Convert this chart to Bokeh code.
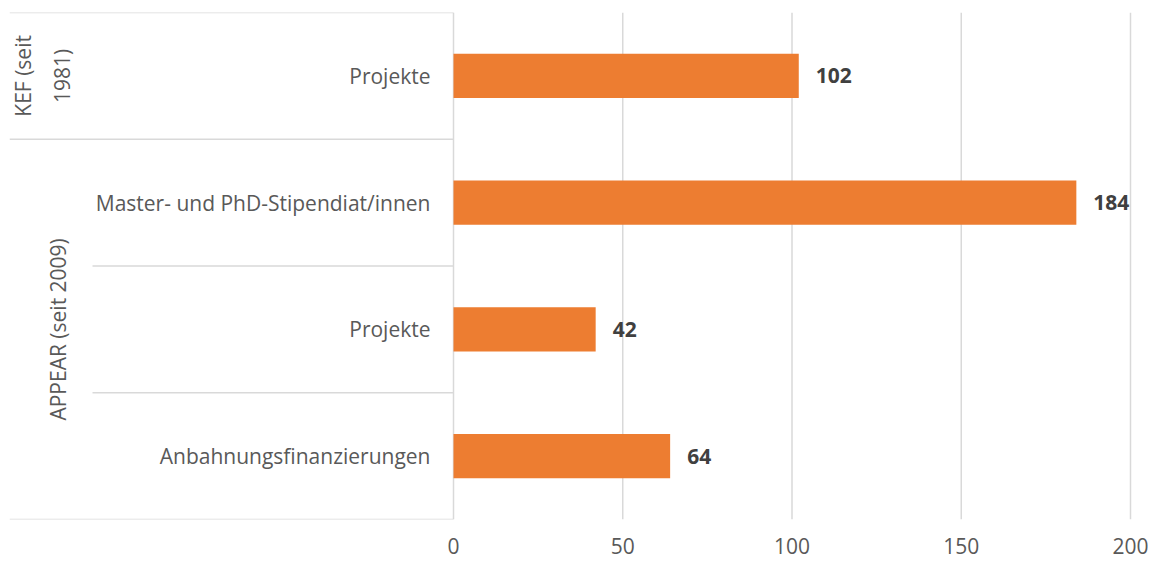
import math
from bokeh.plotting import figure
from bokeh.models import ColumnDataSource, FixedTicker
from bokeh.core.properties import value
from bokeh.embed import file_html
from bokeh.resources import INLINE

# ---- data ----
categories = ["Projekte", "Master- und PhD-Stipendiat/innen", "Projekte", "Anbahnungsfinanzierungen"]
groups = ["KEF (seit\n1981)", "APPEAR (seit 2009)", "APPEAR (seit 2009)", "APPEAR (seit 2009)"]
values = [102, 184, 42, 64]
ticks = [0, 50, 100, 150, 200]

FONT = "Open Sans"
FS = "21px"
TXT = "#595959"
GRID = "#D9D9D9"

n = len(categories)
ypos = [n - i - 0.5 for i in range(n)]

src = ColumnDataSource(dict(y=ypos, v=values, cat=categories, lab=[str(v) for v in values]))

px_per_unit = 677 / 200.0
x_start = (9 - 453) / px_per_unit
x_end = (1148 - 453) / px_per_unit

p = figure(output_backend="svg", toolbar_location=None,
           frame_width=1139, frame_height=507,
           x_range=(x_start, x_end), y_range=(0, n),
           min_border_left=9, min_border_right=0, min_border_top=12, min_border_bottom=44)
p.outline_line_color = None
p.background_fill_color = "white"
p.border_fill_color = "white"

# grid lines (only within value area)
p.xgrid.visible = False
p.ygrid.visible = False
p.segment(x0=ticks, x1=ticks, y0=[0] * len(ticks), y1=[n] * len(ticks),
          line_color=GRID, line_width=1.5)

# separators in label area
sep_y = [n]
sep_x0 = [x_start]
for i in range(1, n + 1):
    y = n - i
    if i == n or groups[i] != groups[i - 1]:
        sep_x0.append(x_start)
    else:
        sep_x0.append((92 - 453) / px_per_unit)
    sep_y.append(y)
p.segment(x0=sep_x0, x1=[0] * len(sep_y), y0=sep_y, y1=sep_y, line_color=GRID, line_width=1.5)

# bars
p.hbar(y="y", right="v", left=0, height=0.35, source=src, color="#ED7D31", line_color=None)

# data labels
p.text(x="v", y="y", text="lab", source=src, x_offset=17,
       text_font=value(FONT), text_font_size=FS, text_font_style="bold",
       text_color="#404040", text_align="left", text_baseline="middle")

# category labels
p.text(x=0, y="y", text="cat", source=src, x_offset=-23,
       text_font=value(FONT), text_font_size=FS,
       text_color=TXT, text_align="right", text_baseline="middle")

# group labels
uniq = []
for i, g in enumerate(groups):
    if not uniq or uniq[-1][0] != g:
        uniq.append([g, i, i])
    else:
        uniq[-1][2] = i
gx, gy, gt = [], [], []
for g, a, b in uniq:
    gy.append((ypos[a] + ypos[b]) / 2)
    gt.append(g)
    gx.append(x_start)
goff = [33 if "\n" in g else 48 for g in gt]
p.text(x=gx, y=gy, text=gt, x_offset=goff, angle=math.pi / 2,
       text_font=value(FONT), text_font_size=FS, text_color=TXT,
       text_align="center", text_baseline="middle", text_line_height=1.4)

# axes
p.yaxis.visible = False
xa = p.xaxis[0]
xa.ticker = FixedTicker(ticks=ticks)
xa.axis_line_color = None
xa.major_tick_line_color = None
xa.minor_tick_line_color = None
xa.major_label_standoff = 12
xa.major_label_text_font = FONT
xa.major_label_text_font_size = FS
xa.major_label_text_color = TXT

open("out.html", "w").write(file_html(p, INLINE))
